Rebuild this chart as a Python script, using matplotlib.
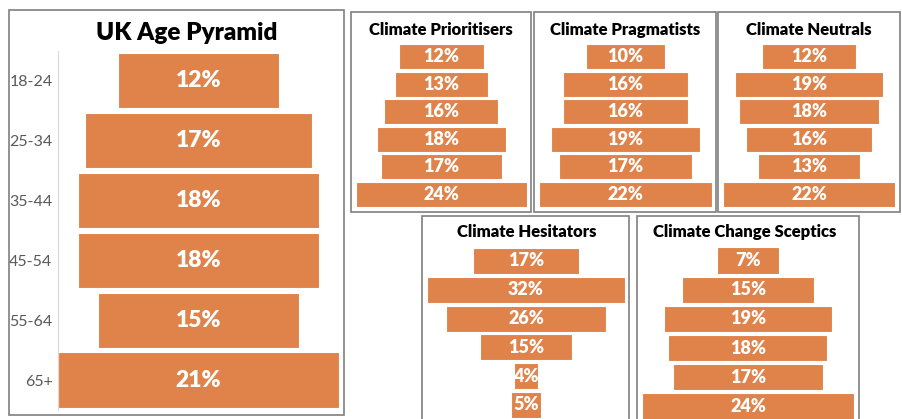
# Climate segments vs UK age pyramid
import matplotlib
matplotlib.use("Agg")
import matplotlib.pyplot as plt
from matplotlib.patches import Rectangle

plt.rcParams['font.family'] = ['Lato', 'DejaVu Sans']

W, H = 903, 419
ORANGE = "#E0834A"

# data (top row = youngest)
age_groups = ["18-24", "25-34", "35-44", "45-54", "55-64", "65+"]
uk_population = [12, 17, 18, 18, 15, 21]
prioritisers = [12, 13, 16, 18, 17, 24]
pragmatists = [10, 16, 16, 19, 17, 22]
neutrals = [12, 19, 18, 16, 13, 22]
hesitators = [17, 32, 26, 15, 4, 5]
sceptics = [7, 15, 19, 18, 17, 24]

fig = plt.figure(figsize=(W / 100, H / 100), dpi=100)


def px_axes(x0, y0, x1, y1):
    # pixel box (top-left origin) -> figure axes
    return fig.add_axes([x0 / W, 1 - y1 / H, (x1 - x0) / W, (y1 - y0) / H])


def frame(x0, y0, x1, y1):
    fig.add_artist(Rectangle((x0 / W, 1 - y1 / H), (x1 - x0) / W, (y1 - y0) / H,
                             transform=fig.transFigure, fill=False,
                             edgecolor="#7f7f7f", linewidth=1.2))


def pyramid(ax, values, half, bar_h, fs, labels=None):
    n = range(len(values))
    ax.barh(n, values, left=[-v / 2 for v in values], height=bar_h,
            color=ORANGE, edgecolor="white", linewidth=0.8)
    for i, v in enumerate(values):
        ax.text(0, i, f"{v}%", ha="center", va="center", color="white",
                fontsize=fs, fontweight="heavy")
    ax.set_xlim(-half, half)
    ax.set_ylim(len(values) - 0.5, -0.5)
    ax.set_xticks([])
    for s in ["top", "right", "bottom"]:
        ax.spines[s].set_visible(False)
    if labels is None:
        ax.spines["left"].set_visible(False)
        ax.set_yticks([])
    else:
        ax.spines["left"].set_color("#d9d9d9")
        ax.set_yticks(list(n))
        ax.set_yticklabels(labels, color="#595959", fontsize=11.5)
        ax.tick_params(axis="y", length=0, pad=4)
    ax.patch.set_alpha(0)


# UK age pyramid
frame(9, 10, 344, 415)
fig.text(187 / W, 1 - 33 / H, "UK Age Pyramid", ha="center", va="center",
         fontsize=17.5, fontweight="heavy", color="black")
ax = px_axes(58, 50.6, 339, 410)
pyramid(ax, uk_population, 10.5, 0.92, 16.5, labels=age_groups)

# segment panels
panels = [
    ("Climate Prioritisers", prioritisers, (351, 12, 531, 212), (356, 42.7, 527, 208.3), 12, 441, 30),
    ("Climate Pragmatists", pragmatists, (534, 12, 716, 212), (539, 42.7, 712, 208.3), 11, 625, 30),
    ("Climate Neutrals", neutrals, (718, 12, 900, 212), (723, 42.7, 895, 208.3), 11, 809, 30),
    ("Climate Hesitators", hesitators, (422, 216, 629, 440), (427, 246.6, 625, 419.4), 16, 527, 232),
    ("Climate Change Sceptics", sceptics, (637, 216, 859, 440), (642, 245.9, 854, 421.1), 12, 745, 232),
]
for title, vals, box, area, half, tx, ty in panels:
    frame(*box)
    fig.text(tx / W, 1 - ty / H, title, ha="center", va="center",
             fontsize=12, fontweight="heavy", color="black")
    ax = px_axes(*area)
    pyramid(ax, vals, half, 0.9, 13)

fig.savefig("out.png", dpi=100)
